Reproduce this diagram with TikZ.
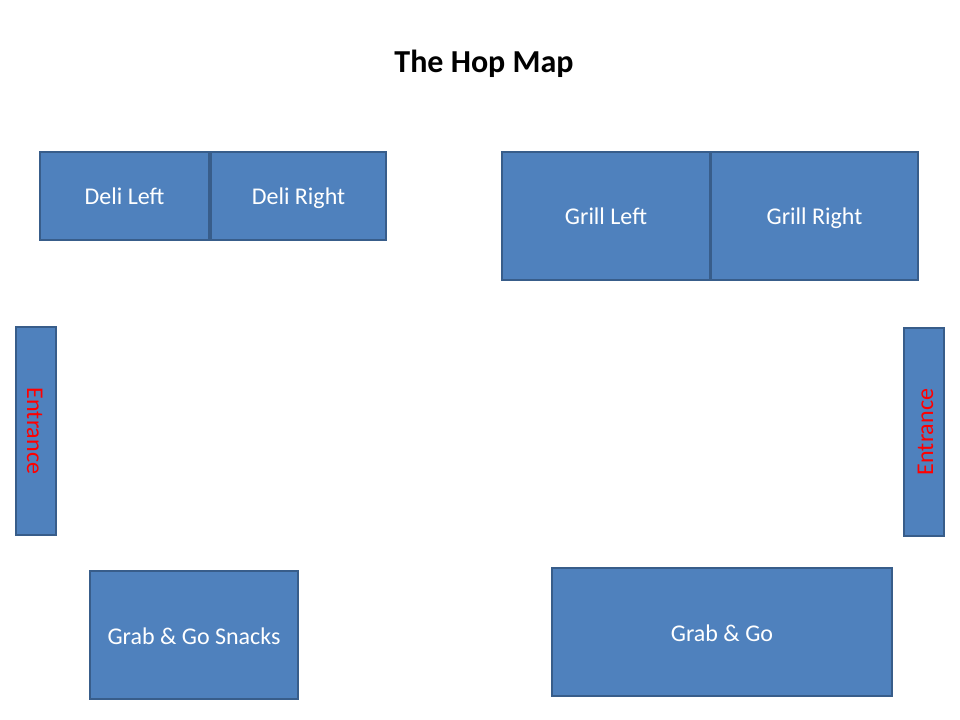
\documentclass[tikz,border=0pt]{standalone}
\usepackage{fontspec}
\setmainfont{Carlito}
\definecolor{boxfill}{HTML}{4F81BD}
\definecolor{boxline}{HTML}{385D8A}
\definecolor{entred}{HTML}{FF0000}
\begin{document}
\begin{tikzpicture}[x=0.75pt,y=-0.75pt,
  stall/.style={draw=boxline,fill=boxfill,line width=1.5pt},
  lbl/.style={text=white,font=\fontsize{18}{21}\selectfont,text height=13.5pt,text depth=0pt},
  entlbl/.style={text=entred,font=\fontsize{18}{21}\selectfont,text height=13.5pt,text depth=0pt}]
\useasboundingbox[fill=white] (0,0) rectangle (960,720);
\node[font=\bfseries\fontsize{24}{28}\selectfont,text height=17pt,text depth=0pt] (title) at (484,61) {The Hop Map};
\draw[stall] (40,152) rectangle node[lbl] (delil) {Deli Left} (209,240);
\draw[stall] (211,152) rectangle node[lbl] (delir) {Deli Right} (386,240);
\draw[stall] (502,152) rectangle node[lbl] (grilll) {Grill Left} (710,280);
\draw[stall] (711,152) rectangle node[lbl] (grillr) {Grill Right} (918,280);
\draw[stall] (16,327) rectangle node[entlbl,rotate=-90] (entl) {Entrance} (56,535);
\draw[stall] (904,328) rectangle node[entlbl,rotate=90] (entr) {Entrance} (944,536);
\draw[stall] (90,571) rectangle node[lbl] (snacks) {Grab \& Go Snacks} (298,699);
\draw[stall] (552,568) rectangle node[lbl] (grab) {Grab \& Go} (892,696);
\end{tikzpicture}
\end{document}
